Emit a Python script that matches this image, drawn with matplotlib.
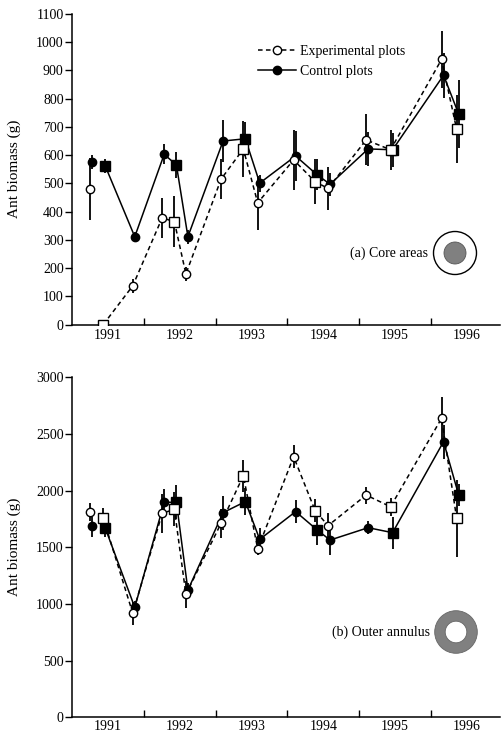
import numpy as np
import matplotlib
matplotlib.use("Agg")
import matplotlib.pyplot as plt
from matplotlib.lines import Line2D
from matplotlib.patches import Circle

plt.rcParams['font.family'] = ['Liberation Serif', 'DejaVu Serif']

# sampling dates (decimal years) and which ones were square-marked samples
times = np.array([1991.27, 1991.45, 1991.86, 1992.27, 1992.44, 1992.60, 1993.09, 1993.40,
                  1993.60, 1994.10, 1994.40, 1994.58, 1995.11, 1995.45, 1996.16, 1996.37])
square_idx = [1, 4, 7, 10, 13, 15]
years = [1991, 1992, 1993, 1994, 1995, 1996]

# (a) core areas
exp_core = [480, 0, 137, 378, 364, 179, 515, 622, 431, 583, 506, 482, 654, 619, 939, 692]
exp_core_se = [110, 0, 25, 70, 90, 25, 70, 100, 95, 105, 80, 75, 90, 70, 100, 120]
ctrl_core = [577, 561, 311, 603, 565, 311, 650, 658, 501, 597, 530, 497, 622, 619, 883, 746]
ctrl_core_se = [25, 25, 15, 35, 45, 25, 75, 60, 30, 90, 55, 40, 60, 60, 80, 120]

# (b) outer annulus
exp_outer = [1814, 1756, 918, 1800, 1835, 1085, 1712, 2132, 1485, 2300, 1823, 1691, 1961, 1858, 2638, 1756]
exp_outer_se = [80, 90, 100, 170, 150, 120, 130, 140, 50, 100, 100, 110, 75, 80, 190, 340]
ctrl_outer = [1688, 1668, 970, 1897, 1897, 1123, 1806, 1903, 1570, 1815, 1653, 1564, 1673, 1629, 2432, 1962]
ctrl_outer_se = [100, 80, 60, 120, 150, 60, 150, 120, 100, 100, 130, 130, 60, 140, 150, 100]

W, H = 501, 737
fig = plt.figure(figsize=(W / 100, H / 100), dpi=100)

DASH = (0, (3.0, 2.2))
dodge = 0.014
is_sq = np.zeros(len(times), bool)
is_sq[square_idx] = True


def draw_panel(ax, exp, exp_se, ctrl, ctrl_se, ymax, ystep, xpad):
    exp, exp_se = np.array(exp), np.array(exp_se)
    ctrl, ctrl_se = np.array(ctrl), np.array(ctrl_se)
    series = [
        (times + dodge, ctrl, ctrl_se, '-', 'black', 2),
        (times - dodge, exp, exp_se, DASH, 'white', 3),
    ]
    for x, y, se, ls, face, z in series:
        ax.errorbar(x, y, yerr=se, fmt='none', ecolor='black', elinewidth=1.3,
                    capsize=0, zorder=z)
        # first sample is not joined to the rest
        ax.plot(x[1:], y[1:], ls=ls, color='black', lw=1.1, zorder=z)
        ax.plot(x[~is_sq], y[~is_sq], 'o', ms=6, mfc=face, mec='black', mew=1.0,
                ls='none', zorder=z + 0.5)
        ax.plot(x[is_sq], y[is_sq], 's', ms=6.8, mfc=face, mec='black', mew=1.0,
                ls='none', zorder=z + 0.5)

    ax.set_xlim(1991, 1996.96)
    ax.set_ylim(0, ymax)
    ax.set_yticks(np.arange(0, ymax + 1, ystep))
    ax.set_xticks(years[1:])
    ax.set_xticklabels([])
    ax.set_xticks([y + 0.5 for y in years], minor=True)
    ax.set_xticklabels([str(y) for y in years], minor=True)
    ax.tick_params(axis='x', which='major', direction='in', length=5, width=1)
    ax.tick_params(axis='x', which='minor', length=0, pad=xpad, labelsize=10)
    ax.tick_params(axis='y', direction='out', length=5, width=1, pad=1, labelsize=10)
    for s in ['top', 'right']:
        ax.spines[s].set_visible(False)
    for s in ['left', 'bottom']:
        ax.spines[s].set_linewidth(1.1)
    ax.set_ylabel('Ant biomass (g)', fontsize=11)
    ax.yaxis.set_label_coords(-0.118, 0.5)


ax1 = fig.add_axes([72 / W, 1 - 324.5 / H, 428 / W, 310.5 / H])
draw_panel(ax1, exp_core, exp_core_se, ctrl_core, ctrl_core_se, 1100, 100, 3.5)

ax2 = fig.add_axes([72 / W, 1 - 717.3 / H, 428 / W, 340 / H])
draw_panel(ax2, exp_outer, exp_outer_se, ctrl_outer, ctrl_outer_se, 3000, 500, 2)

handles = [
    Line2D([], [], ls=DASH, color='black', lw=1.1, marker='o', ms=6, mfc='white', mec='black'),
    Line2D([], [], ls='-', color='black', lw=1.1, marker='o', ms=6, mfc='black', mec='black'),
]
ax1.legend(handles, ['Experimental plots', 'Control plots'], loc='upper left',
           bbox_to_anchor=(0.435, 0.90), frameon=False, fontsize=10,
           handlelength=2.7, handletextpad=0.3, labelspacing=0.5,
           borderpad=0, borderaxespad=0)

# panel labels with plot icons
fig.text(428 / W, 1 - 253 / H, '(a) Core areas', ha='right', va='center', fontsize=10)
fig.add_artist(Circle((455 / 100, (H - 253) / 100), 0.215, transform=fig.dpi_scale_trans,
                      facecolor='white', edgecolor='black', lw=1.0))
fig.add_artist(Circle((455 / 100, (H - 253) / 100), 0.11, transform=fig.dpi_scale_trans,
                      facecolor='#808080', edgecolor='#555555', lw=0.6))

fig.text(430 / W, 1 - 632 / H, '(b) Outer annulus', ha='right', va='center', fontsize=10)
fig.add_artist(Circle((456 / 100, (H - 632) / 100), 0.213, transform=fig.dpi_scale_trans,
                      facecolor='#808080', edgecolor='#666666', lw=0.6))
fig.add_artist(Circle((456 / 100, (H - 632) / 100), 0.108, transform=fig.dpi_scale_trans,
                      facecolor='white', edgecolor='#666666', lw=0.6))

fig.savefig('out.png', dpi=100)
